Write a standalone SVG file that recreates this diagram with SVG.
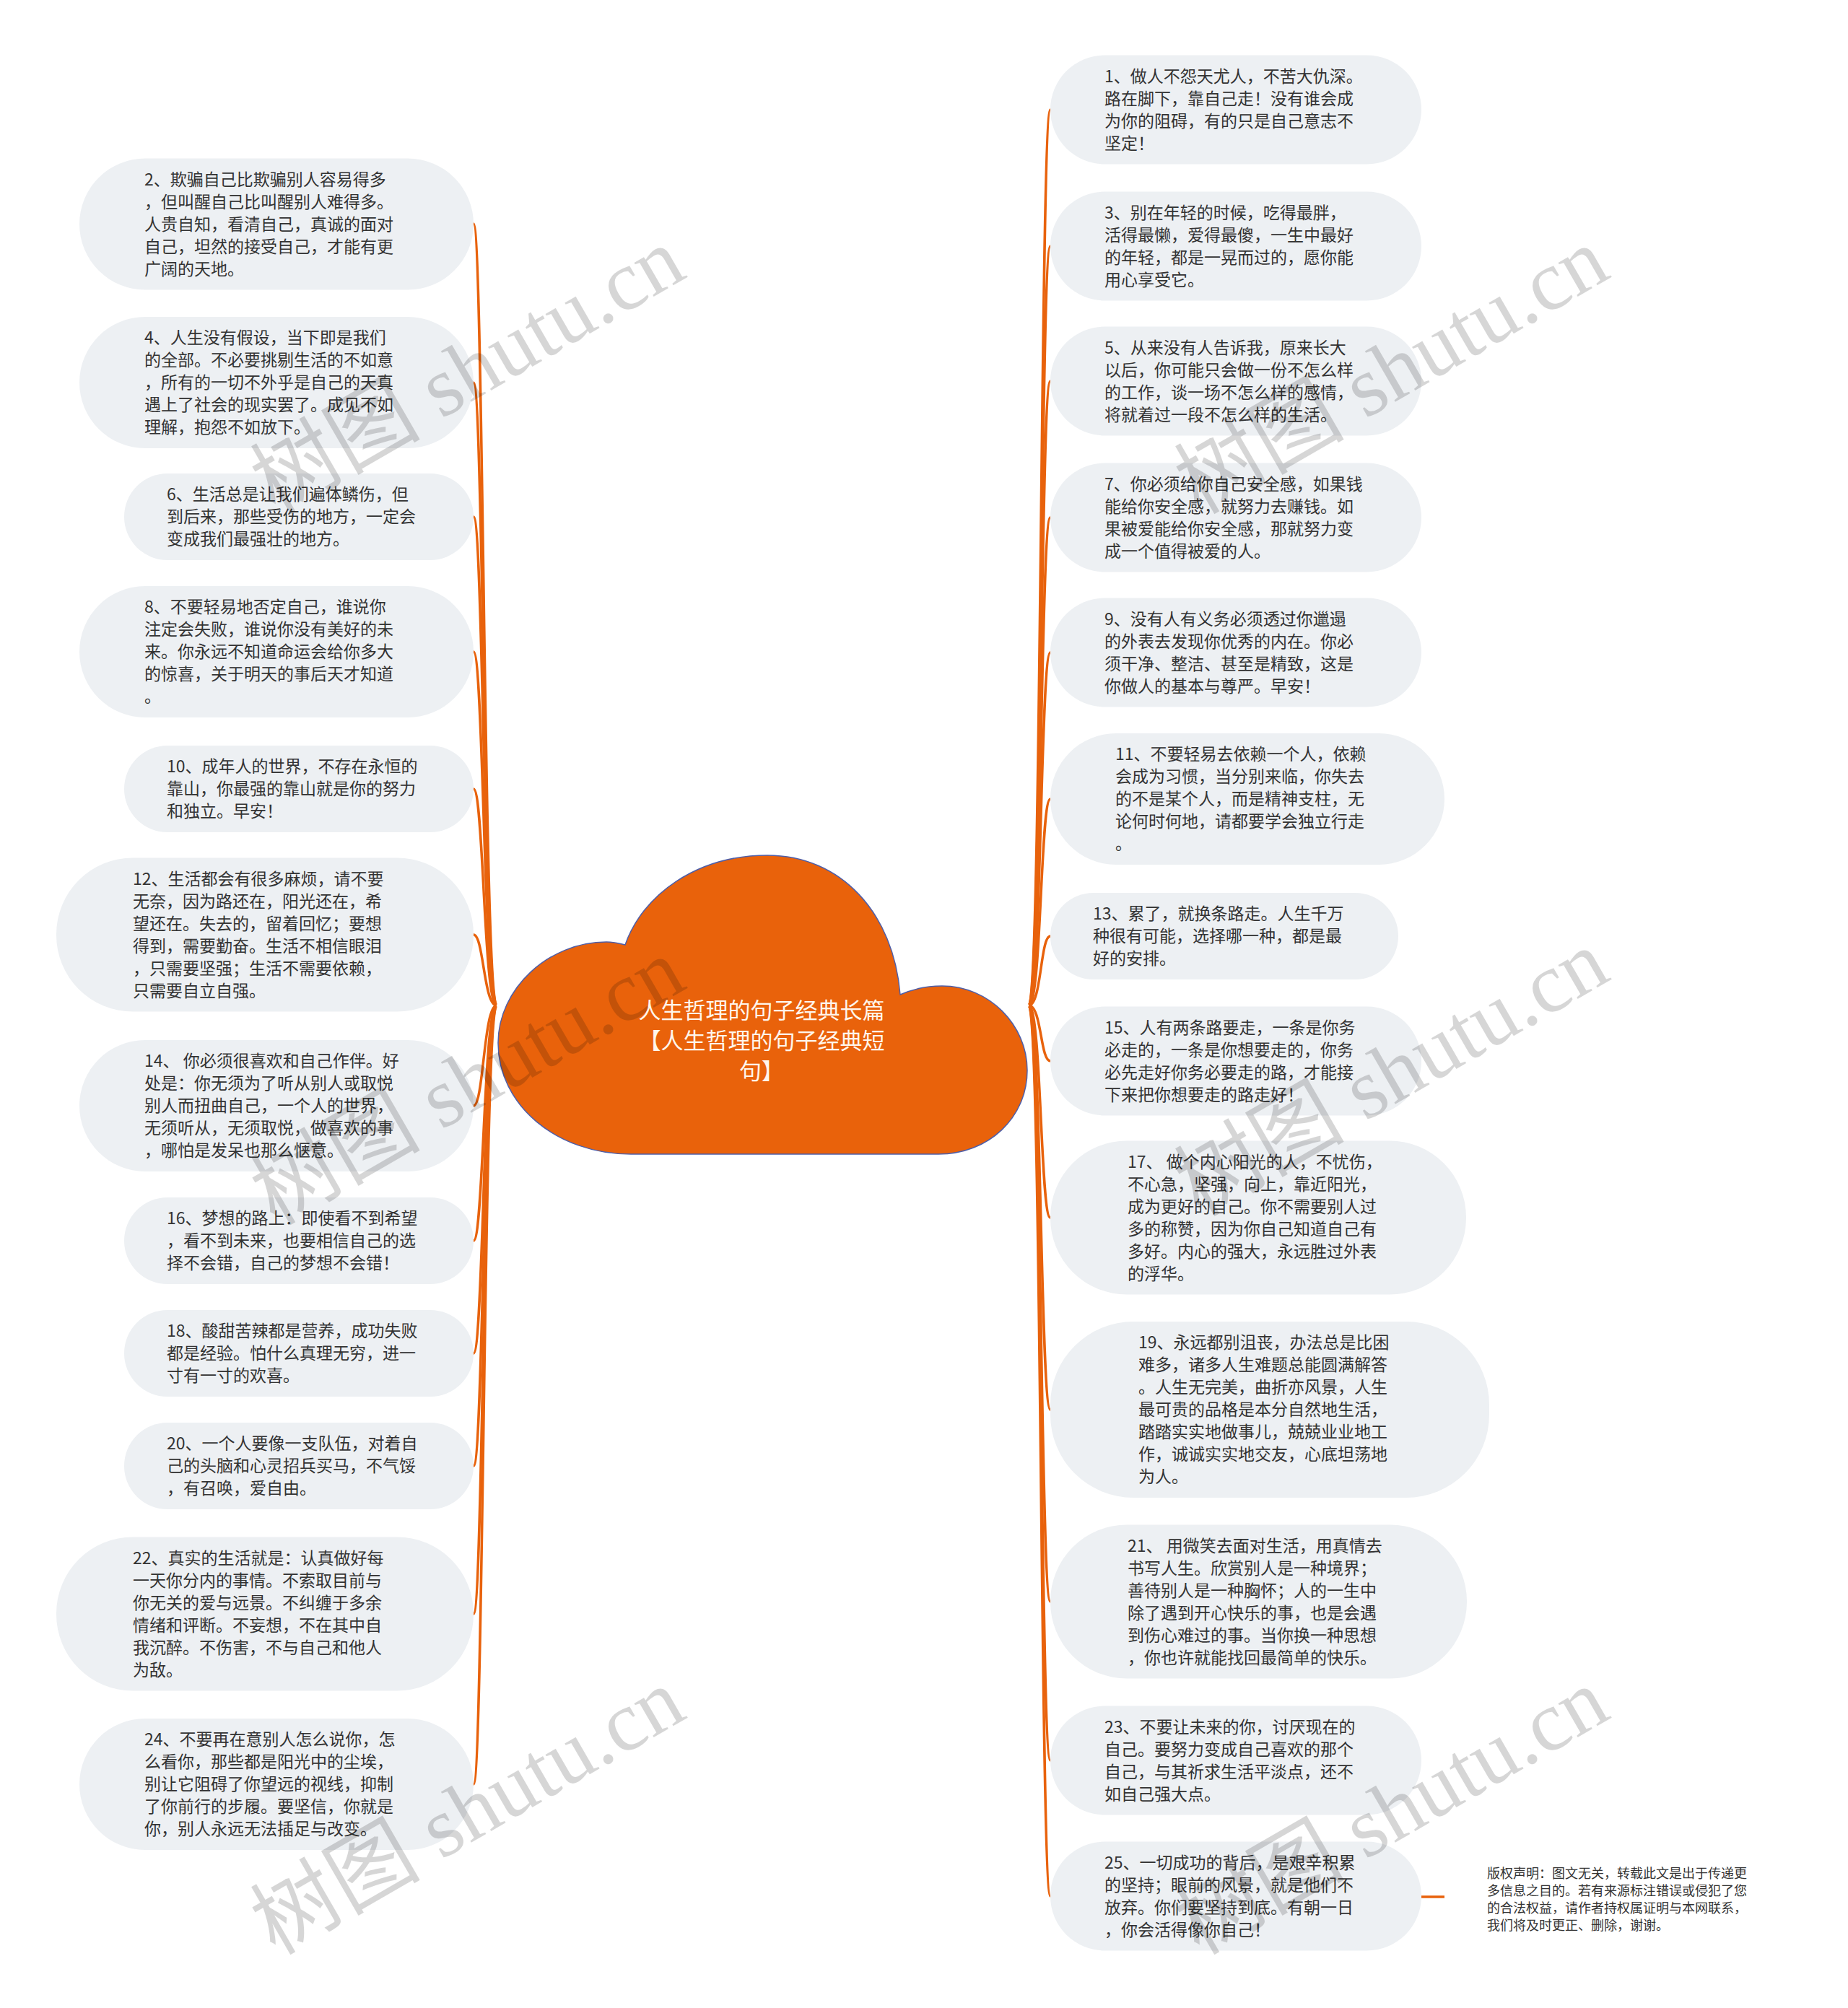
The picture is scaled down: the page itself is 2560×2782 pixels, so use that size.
<svg xmlns="http://www.w3.org/2000/svg" width="2560" height="2782" viewBox="0 0 2560 2782">
<style>
.pill{fill:#EDF0F3}
.t{font-family:"Noto Sans CJK SC","Liberation Sans",sans-serif;font-size:23px;fill:#333333;dominant-baseline:central;transform:translateY(-2px)}
.c{fill:none;stroke:#E8620C;stroke-width:3.5}
.root{fill:#E9620B;stroke:#4F5FA8;stroke-width:1.5}
.rt{font-family:"Noto Sans CJK SC","Liberation Sans",sans-serif;font-size:31px;fill:#FFF6EC;text-anchor:middle;dominant-baseline:central}
.cp{font-family:"Noto Sans CJK SC","Liberation Sans",sans-serif;font-size:18px;fill:#333333;dominant-baseline:central}
.wm{font-family:"Liberation Serif","Noto Sans CJK SC",serif;font-size:118px;fill:#000000;fill-opacity:0.16;text-anchor:middle;dominant-baseline:central}
</style>
<rect width="2560" height="2782" fill="#FFFFFF"/>
<g id="connectors">
<path class="c" d="M688 1393 C670 1393 670 310 656 310"/>
<path class="c" d="M688 1393 C670 1393 670 530 656 530"/>
<path class="c" d="M688 1393 C670 1393 670 716 656 716"/>
<path class="c" d="M688 1393 C670 1393 670 903 656 903"/>
<path class="c" d="M688 1393 C670 1393 670 1093 656 1093"/>
<path class="c" d="M688 1393 C670 1393 670 1295 656 1295"/>
<path class="c" d="M688 1393 C670 1393 670 1532 656 1532"/>
<path class="c" d="M688 1393 C670 1393 670 1719 656 1719"/>
<path class="c" d="M688 1393 C670 1393 670 1875 656 1875"/>
<path class="c" d="M688 1393 C670 1393 670 2031 656 2031"/>
<path class="c" d="M688 1393 C670 1393 670 2236 656 2236"/>
<path class="c" d="M688 1393 C670 1393 670 2472 656 2472"/>
<path class="c" d="M1425 1393 C1443 1393 1441 152 1455 152"/>
<path class="c" d="M1425 1393 C1443 1393 1441 341 1455 341"/>
<path class="c" d="M1425 1393 C1443 1393 1441 528 1455 528"/>
<path class="c" d="M1425 1393 C1443 1393 1441 717 1455 717"/>
<path class="c" d="M1425 1393 C1443 1393 1441 904 1455 904"/>
<path class="c" d="M1425 1393 C1443 1393 1441 1107 1455 1107"/>
<path class="c" d="M1425 1393 C1443 1393 1441 1297 1455 1297"/>
<path class="c" d="M1425 1393 C1443 1393 1441 1470 1455 1470"/>
<path class="c" d="M1425 1393 C1443 1393 1441 1687 1455 1687"/>
<path class="c" d="M1425 1393 C1443 1393 1441 1953 1455 1953"/>
<path class="c" d="M1425 1393 C1443 1393 1441 2219 1455 2219"/>
<path class="c" d="M1425 1393 C1443 1393 1441 2439 1455 2439"/>
<path class="c" d="M1425 1393 C1443 1393 1441 2627 1455 2627"/>
<path class="c" d="M1969 2628 L2001 2628"/>
</g>
<g id="root">
<path class="root" d="M874 1599 C770 1599 690 1530 690 1445 C690 1370 760 1305 840 1305 C850 1305 858 1307 866 1309 C890 1240 965 1185 1063 1185 C1165 1185 1238 1265 1247 1378 C1265 1370 1285 1366 1305 1366 C1370 1366 1423 1420 1423 1483 C1423 1548 1370 1599 1300 1599 Z"/>
<text class="rt"><tspan x="1055" y="1397">人生哲理的句子经典长篇</tspan><tspan x="1055" y="1439">【人生哲理的句子经典短</tspan><tspan x="1055" y="1481">句】</tspan></text>
</g>
<g id="n2"><rect class="pill" x="110" y="219.5" width="546" height="182" rx="91"/><text class="t"><tspan x="200" y="248.5">2、欺骗自己比欺骗别人容易得多</tspan><tspan x="200" y="279.5">，但叫醒自己比叫醒别人难得多。</tspan><tspan x="200" y="310.5">人贵自知，看清自己，真诚的面对</tspan><tspan x="200" y="341.5">自己，坦然的接受自己，才能有更</tspan><tspan x="200" y="372.5">广阔的天地。</tspan></text></g>
<g id="n4"><rect class="pill" x="110" y="439" width="546" height="182" rx="91"/><text class="t"><tspan x="200" y="468">4、人生没有假设，当下即是我们</tspan><tspan x="200" y="499">的全部。不必要挑剔生活的不如意</tspan><tspan x="200" y="530">，所有的一切不外乎是自己的天真</tspan><tspan x="200" y="561">遇上了社会的现实罢了。成见不如</tspan><tspan x="200" y="592">理解，抱怨不如放下。</tspan></text></g>
<g id="n6"><rect class="pill" x="172" y="656" width="484" height="120" rx="60"/><text class="t"><tspan x="231" y="685">6、生活总是让我们遍体鳞伤，但</tspan><tspan x="231" y="716">到后来，那些受伤的地方，一定会</tspan><tspan x="231" y="747">变成我们最强壮的地方。</tspan></text></g>
<g id="n8"><rect class="pill" x="110" y="812" width="546" height="182" rx="91"/><text class="t"><tspan x="200" y="841">8、不要轻易地否定自己，谁说你</tspan><tspan x="200" y="872">注定会失败，谁说你没有美好的未</tspan><tspan x="200" y="903">来。你永远不知道命运会给你多大</tspan><tspan x="200" y="934">的惊喜，关于明天的事后天才知道</tspan><tspan x="200" y="965">。</tspan></text></g>
<g id="n10"><rect class="pill" x="172" y="1033" width="484" height="120" rx="60"/><text class="t"><tspan x="231" y="1062">10、成年人的世界，不存在永恒的</tspan><tspan x="231" y="1093">靠山，你最强的靠山就是你的努力</tspan><tspan x="231" y="1124">和独立。早安！</tspan></text></g>
<g id="n12"><rect class="pill" x="78" y="1188.5" width="578" height="213" rx="106"/><text class="t"><tspan x="184" y="1217.5">12、生活都会有很多麻烦，请不要</tspan><tspan x="184" y="1248.5">无奈，因为路还在，阳光还在，希</tspan><tspan x="184" y="1279.5">望还在。失去的，留着回忆；要想</tspan><tspan x="184" y="1310.5">得到，需要勤奋。生活不相信眼泪</tspan><tspan x="184" y="1341.5">，只需要坚强；生活不需要依赖，</tspan><tspan x="184" y="1372.5">只需要自立自强。</tspan></text></g>
<g id="n14"><rect class="pill" x="110" y="1441" width="546" height="182" rx="91"/><text class="t"><tspan x="200" y="1470">14、 你必须很喜欢和自己作伴。好</tspan><tspan x="200" y="1501">处是：你无须为了听从别人或取悦</tspan><tspan x="200" y="1532">别人而扭曲自己，一个人的世界，</tspan><tspan x="200" y="1563">无须听从，无须取悦，做喜欢的事</tspan><tspan x="200" y="1594">，哪怕是发呆也那么惬意。</tspan></text></g>
<g id="n16"><rect class="pill" x="172" y="1659" width="484" height="120" rx="60"/><text class="t"><tspan x="231" y="1688">16、梦想的路上：即使看不到希望</tspan><tspan x="231" y="1719">，看不到未来，也要相信自己的选</tspan><tspan x="231" y="1750">择不会错，自己的梦想不会错！</tspan></text></g>
<g id="n18"><rect class="pill" x="172" y="1815" width="484" height="120" rx="60"/><text class="t"><tspan x="231" y="1844">18、酸甜苦辣都是营养，成功失败</tspan><tspan x="231" y="1875">都是经验。怕什么真理无穷，进一</tspan><tspan x="231" y="1906">寸有一寸的欢喜。</tspan></text></g>
<g id="n20"><rect class="pill" x="172" y="1971" width="484" height="120" rx="60"/><text class="t"><tspan x="231" y="2000">20、一个人要像一支队伍，对着自</tspan><tspan x="231" y="2031">己的头脑和心灵招兵买马，不气馁</tspan><tspan x="231" y="2062">，有召唤，爱自由。</tspan></text></g>
<g id="n22"><rect class="pill" x="78" y="2129.5" width="578" height="213" rx="106"/><text class="t"><tspan x="184" y="2158.5">22、真实的生活就是：认真做好每</tspan><tspan x="184" y="2189.5">一天你分内的事情。不索取目前与</tspan><tspan x="184" y="2220.5">你无关的爱与远景。不纠缠于多余</tspan><tspan x="184" y="2251.5">情绪和评断。不妄想，不在其中自</tspan><tspan x="184" y="2282.5">我沉醉。不伤害，不与自己和他人</tspan><tspan x="184" y="2313.5">为敌。</tspan></text></g>
<g id="n24"><rect class="pill" x="110" y="2381" width="546" height="182" rx="91"/><text class="t"><tspan x="200" y="2410">24、不要再在意别人怎么说你，怎</tspan><tspan x="200" y="2441">么看你，那些都是阳光中的尘埃，</tspan><tspan x="200" y="2472">别让它阻碍了你望远的视线，抑制</tspan><tspan x="200" y="2503">了你前行的步履。要坚信，你就是</tspan><tspan x="200" y="2534">你，别人永远无法插足与改变。</tspan></text></g>
<g id="n1"><rect class="pill" x="1455" y="76.5" width="514" height="151" rx="75.5"/><text class="t"><tspan x="1530" y="105.5">1、做人不怨天尤人，不苦大仇深。</tspan><tspan x="1530" y="136.5">路在脚下，靠自己走！没有谁会成</tspan><tspan x="1530" y="167.5">为你的阻碍，有的只是自己意志不</tspan><tspan x="1530" y="198.5">坚定！</tspan></text></g>
<g id="n3"><rect class="pill" x="1455" y="265.5" width="514" height="151" rx="75.5"/><text class="t"><tspan x="1530" y="294.5">3、别在年轻的时候，吃得最胖，</tspan><tspan x="1530" y="325.5">活得最懒，爱得最傻，一生中最好</tspan><tspan x="1530" y="356.5">的年轻，都是一晃而过的，愿你能</tspan><tspan x="1530" y="387.5">用心享受它。</tspan></text></g>
<g id="n5"><rect class="pill" x="1455" y="452.5" width="514" height="151" rx="75.5"/><text class="t"><tspan x="1530" y="481.5">5、从来没有人告诉我，原来长大</tspan><tspan x="1530" y="512.5">以后，你可能只会做一份不怎么样</tspan><tspan x="1530" y="543.5">的工作，谈一场不怎么样的感情，</tspan><tspan x="1530" y="574.5">将就着过一段不怎么样的生活。</tspan></text></g>
<g id="n7"><rect class="pill" x="1455" y="641.5" width="514" height="151" rx="75.5"/><text class="t"><tspan x="1530" y="670.5">7、你必须给你自己安全感，如果钱</tspan><tspan x="1530" y="701.5">能给你安全感，就努力去赚钱。如</tspan><tspan x="1530" y="732.5">果被爱能给你安全感，那就努力变</tspan><tspan x="1530" y="763.5">成一个值得被爱的人。</tspan></text></g>
<g id="n9"><rect class="pill" x="1455" y="828.5" width="514" height="151" rx="75.5"/><text class="t"><tspan x="1530" y="857.5">9、没有人有义务必须透过你邋遢</tspan><tspan x="1530" y="888.5">的外表去发现你优秀的内在。你必</tspan><tspan x="1530" y="919.5">须干净、整洁、甚至是精致，这是</tspan><tspan x="1530" y="950.5">你做人的基本与尊严。早安！</tspan></text></g>
<g id="n11"><rect class="pill" x="1455" y="1016" width="546" height="182" rx="91"/><text class="t"><tspan x="1545" y="1045">11、不要轻易去依赖一个人，依赖</tspan><tspan x="1545" y="1076">会成为习惯，当分别来临，你失去</tspan><tspan x="1545" y="1107">的不是某个人，而是精神支柱，无</tspan><tspan x="1545" y="1138">论何时何地，请都要学会独立行走</tspan><tspan x="1545" y="1169">。</tspan></text></g>
<g id="n13"><rect class="pill" x="1455" y="1237" width="482" height="120" rx="60"/><text class="t"><tspan x="1514" y="1266">13、累了，就换条路走。人生千万</tspan><tspan x="1514" y="1297">种很有可能，选择哪一种，都是最</tspan><tspan x="1514" y="1328">好的安排。</tspan></text></g>
<g id="n15"><rect class="pill" x="1455" y="1394.5" width="514" height="151" rx="75.5"/><text class="t"><tspan x="1530" y="1423.5">15、人有两条路要走，一条是你务</tspan><tspan x="1530" y="1454.5">必走的，一条是你想要走的，你务</tspan><tspan x="1530" y="1485.5">必先走好你务必要走的路，才能接</tspan><tspan x="1530" y="1516.5">下来把你想要走的路走好！</tspan></text></g>
<g id="n17"><rect class="pill" x="1455" y="1580.5" width="576" height="213" rx="106"/><text class="t"><tspan x="1562" y="1609.5">17、 做个内心阳光的人，不忧伤，</tspan><tspan x="1562" y="1640.5">不心急，坚强，向上，靠近阳光，</tspan><tspan x="1562" y="1671.5">成为更好的自己。你不需要别人过</tspan><tspan x="1562" y="1702.5">多的称赞，因为你自己知道自己有</tspan><tspan x="1562" y="1733.5">多好。内心的强大，永远胜过外表</tspan><tspan x="1562" y="1764.5">的浮华。</tspan></text></g>
<g id="n19"><rect class="pill" x="1455" y="1831" width="608" height="244" rx="115"/><text class="t"><tspan x="1577" y="1860">19、永远都别沮丧，办法总是比困</tspan><tspan x="1577" y="1891">难多，诸多人生难题总能圆满解答</tspan><tspan x="1577" y="1922">。人生无完美，曲折亦风景，人生</tspan><tspan x="1577" y="1953">最可贵的品格是本分自然地生活，</tspan><tspan x="1577" y="1984">踏踏实实地做事儿，兢兢业业地工</tspan><tspan x="1577" y="2015">作，诚诚实实地交友，心底坦荡地</tspan><tspan x="1577" y="2046">为人。</tspan></text></g>
<g id="n21"><rect class="pill" x="1455" y="2112.5" width="577" height="213" rx="106"/><text class="t"><tspan x="1562" y="2141.5">21、 用微笑去面对生活，用真情去</tspan><tspan x="1562" y="2172.5">书写人生。欣赏别人是一种境界；</tspan><tspan x="1562" y="2203.5">善待别人是一种胸怀；人的一生中</tspan><tspan x="1562" y="2234.5">除了遇到开心快乐的事，也是会遇</tspan><tspan x="1562" y="2265.5">到伤心难过的事。当你换一种思想</tspan><tspan x="1562" y="2296.5">，你也许就能找回最简单的快乐。</tspan></text></g>
<g id="n23"><rect class="pill" x="1455" y="2363.5" width="514" height="151" rx="75.5"/><text class="t"><tspan x="1530" y="2392.5">23、不要让未来的你，讨厌现在的</tspan><tspan x="1530" y="2423.5">自己。要努力变成自己喜欢的那个</tspan><tspan x="1530" y="2454.5">自己，与其祈求生活平淡点，还不</tspan><tspan x="1530" y="2485.5">如自己强大点。</tspan></text></g>
<g id="n25"><rect class="pill" x="1455" y="2551.5" width="514" height="151" rx="75.5"/><text class="t"><tspan x="1530" y="2580.5">25、一切成功的背后，是艰辛积累</tspan><tspan x="1530" y="2611.5">的坚持；眼前的风景，就是他们不</tspan><tspan x="1530" y="2642.5">放弃。你们要坚持到底。有朝一日</tspan><tspan x="1530" y="2673.5">，你会活得像你自己！</tspan></text></g>
<g id="copyright"><text class="cp"><tspan x="2060" y="2594">版权声明：图文无关，转载此文是出于传递更</tspan><tspan x="2060" y="2618">多信息之目的。若有来源标注错误或侵犯了您</tspan><tspan x="2060" y="2642">的合法权益，请作者持权属证明与本网联系，</tspan><tspan x="2060" y="2666">我们将及时更正、删除，谢谢。</tspan></text></g>
<g id="watermarks">
<text class="wm" x="648" y="514" transform="rotate(-30 648 514)">树图 shutu.cn</text>
<text class="wm" x="648" y="1499" transform="rotate(-30 648 1499)">树图 shutu.cn</text>
<text class="wm" x="648" y="2510" transform="rotate(-30 648 2510)">树图 shutu.cn</text>
<text class="wm" x="1928" y="514" transform="rotate(-30 1928 514)">树图 shutu.cn</text>
<text class="wm" x="1928" y="1487" transform="rotate(-30 1928 1487)">树图 shutu.cn</text>
<text class="wm" x="1928" y="2510" transform="rotate(-30 1928 2510)">树图 shutu.cn</text>
</g>
</svg>
